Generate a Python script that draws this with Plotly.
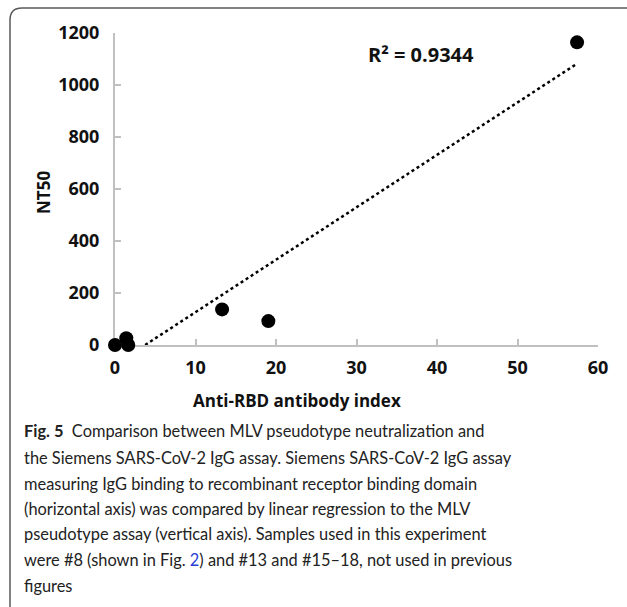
import numpy as np
import plotly.graph_objects as go

# Anti-RBD antibody index vs NT50
antibody_index = [0.0, 1.4, 1.65, 13.3, 19.05, 57.4]
nt50 = [0, 26, 0, 137, 92, 1164]

x_ticks = [0, 10, 20, 30, 40, 50, 60]
y_ticks = [0, 200, 400, 600, 800, 1000, 1200]

r2_label = "R² = 0.9344"

caption_lines = [
    "<b>Fig. 5</b>  Comparison between MLV pseudotype neutralization and",
    "the Siemens SARS-CoV-2 IgG assay. Siemens SARS-CoV-2 IgG assay",
    "measuring IgG binding to recombinant receptor binding domain",
    "(horizontal axis) was compared by linear regression to the MLV",
    "pseudotype assay (vertical axis). Samples used in this experiment",
    "were #8 (shown in Fig. <span style='color:#2a3fd6'>2</span>) and #13 and #15–18, not used in previous",
    "figures",
]

# linear trendline (least squares, like the Excel trendline)
slope, intercept = np.polyfit(antibody_index, nt50, 1)
trend_x = [min(antibody_index), max(antibody_index)]
trend_y = [slope * v + intercept for v in trend_x]

W, H = 627, 607
L, R, T, B = 115, 598, 33, 345


def px(x):
    return (x - L) / (R - L)


def py(y):
    return (B - y) / (B - T)


fig = go.Figure()

fig.add_trace(go.Scatter(
    x=trend_x, y=trend_y, mode="lines",
    line=dict(color="black", width=2.5, dash="dot"),
    hoverinfo="skip",
))
fig.add_trace(go.Scatter(
    x=antibody_index, y=nt50, mode="markers",
    marker=dict(color="black", size=14),
    cliponaxis=False,
))

tick_font = dict(family="Open Sans", size=18, color="#111111", weight="bold")
axis_style = dict(
    showline=True, linecolor="#c0c0c0", linewidth=2,
    ticks="inside", ticklen=6, tickcolor="#c0c0c0", tickwidth=1.5,
    showgrid=False, zeroline=False, tickfont=tick_font, layer="below traces",
)

fig.update_xaxes(range=[0, 60], tickvals=x_ticks, ticklabelstandoff=5, **axis_style)
fig.update_yaxes(range=[0, 1200], tickvals=y_ticks, ticklabelstandoff=10, **axis_style)

label_font = dict(family="Open Sans", size=17, color="#111111")
annotations = [
    dict(text=f"<b>{r2_label}</b>", x=px(421), y=py(55),
         font=dict(family="Open Sans", size=20, color="#111111")),
    dict(text="<b>Anti-RBD antibody index</b>", x=px(297), y=py(400), font=label_font),
    dict(text="<b>NT50</b>", x=px(43), y=py(193), textangle=-90, font=label_font),
]
for a in annotations:
    a.update(xref="paper", yref="paper", xanchor="center", yanchor="middle", showarrow=False)

caption_y = [430, 457, 483, 508, 533, 559, 585]
for line, yy in zip(caption_lines, caption_y):
    annotations.append(dict(
        text=line, x=px(22), y=py(yy), xref="paper", yref="paper",
        xanchor="left", yanchor="middle", showarrow=False,
        font=dict(family="Lato", size=16.4, color="#222222"),
    ))

# rounded frame around the figure (open at the right and bottom)
frame = dict(
    type="path", xref="paper", yref="paper",
    path=(f"M {px(10)} {py(607)} L {px(10)} {py(20)} "
          f"Q {px(10)} {py(8)} {px(22)} {py(8)} L {px(627)} {py(8)}"),
    line=dict(color="#5a5a5a", width=1.5),
)

fig.update_layout(
    width=W, height=H,
    margin=dict(l=L, r=W - R, t=T, b=H - B),
    paper_bgcolor="white", plot_bgcolor="white",
    showlegend=False,
    annotations=annotations,
    shapes=[frame],
)

# drop the browser's default body margin so the figure sits at the page corner
fig.write_html("out.html", config={"displayModeBar": False},
               post_script="document.body.style.margin='0';")
